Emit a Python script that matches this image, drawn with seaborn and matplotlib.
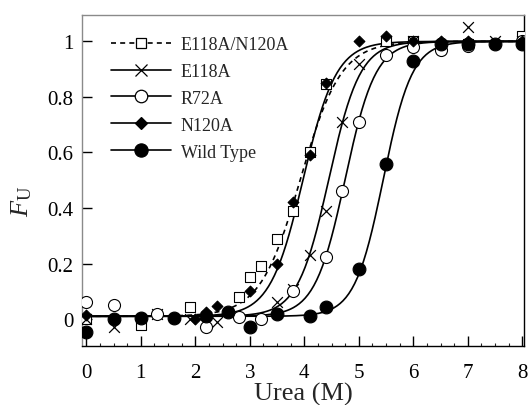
import numpy as np
import pandas as pd
import matplotlib
matplotlib.use('Agg')
import matplotlib.pyplot as plt
import seaborn as sns
from matplotlib.lines import Line2D
from matplotlib.ticker import MultipleLocator

dbl_x = [0, 1, 1.9, 2.8, 3.0, 3.2, 3.5, 3.8, 4.1, 4.4, 5.5, 6.0, 7.0, 8.0]
dbl_y = [0.0, -0.02, 0.045, 0.08, 0.15, 0.19, 0.29, 0.39, 0.60, 0.845, 1.0, 1.0, 0.99, 1.02]

e118_x = [0, 0.5, 1.3, 1.9, 2.4, 3.5, 3.8, 4.1, 4.4, 4.7, 5.0, 6.0, 7.0, 7.5, 8.0]
e118_y = [0.0, -0.03, 0.02, 0.0, -0.01, 0.06, 0.11, 0.23, 0.39, 0.71, 0.92, 1.0, 1.05, 1.0, 1.0]

r72_x = [0, 0.5, 1.3, 2.2, 2.8, 3.2, 3.8, 4.4, 4.7, 5.0, 5.5, 6.0, 6.5, 7.0, 8.0]
r72_y = [0.063, 0.05, 0.02, -0.03, 0.008, 0.0, 0.10, 0.225, 0.46, 0.71, 0.95, 0.98, 0.97, 0.985, 1.0]

n120_x = [0, 0.5, 1.6, 2.0, 2.2, 2.4, 3.0, 3.5, 3.8, 4.1, 4.4, 5.0, 5.5, 6.0, 6.5, 7.0, 8.0]
n120_y = [0.016, 0.0, 0.005, 0.0, 0.027, 0.048, 0.10, 0.20, 0.42, 0.59, 0.85, 1.0, 1.02, 1.0, 1.0, 1.0, 1.0]

wt_x = [0, 0.5, 1.0, 1.6, 2.2, 2.6, 3.0, 3.5, 4.1, 4.4, 5.0, 5.5, 6.0, 6.5, 7.0, 7.5, 8.0]
wt_y = [-0.045, 0.0, 0.005, 0.005, 0.01, 0.026, -0.027, 0.02, 0.01, 0.045, 0.18, 0.56, 0.93, 0.99, 0.99, 0.99, 0.99]

# two-state fit parameters (midpoint, steepness) estimated from the curves
names = ['E118A/N120A', 'E118A', 'R72A', 'N120A', 'Wild Type']
fit_mid = [3.93, 4.45, 4.75, 3.98, 5.45]
fit_k = [2.7, 3.5, 3.6, 3.3, 3.8]
base_lo = 0.01

sns.set_style('ticks')
plt.rcParams['font.family'] = ['Liberation Serif', 'DejaVu Serif']
plt.rcParams['mathtext.fontset'] = 'custom'
plt.rcParams['mathtext.rm'] = 'Liberation Serif'
plt.rcParams['mathtext.it'] = 'Liberation Serif:italic'

fig = plt.figure(figsize=(5.29, 4.06), dpi=100)
ax = fig.add_axes([0.155, 0.1453, 0.8355, 0.8153])

series = [(dbl_x, dbl_y), (e118_x, e118_y), (r72_x, r72_y), (n120_x, n120_y), (wt_x, wt_y)]
markers = ['s', 'x', 'o', 'D', 'o']
msizes = [48, 60, 75, 30, 85]
facecol = ['white', 'black', 'white', 'black', 'black']
dash_pat = (3, 2.5)

xx = np.linspace(0, 8, 300)
for i, (xs, ys) in enumerate(series):
    yfit = base_lo + (1 - base_lo) / (1 + np.exp(-fit_k[i] * (xx - fit_mid[i])))
    fdf = pd.DataFrame({'urea': xx, 'fu': yfit})
    sns.lineplot(data=fdf, x='urea', y='fu', ax=ax, color='black', lw=1.2, zorder=2)
    if i == 0:
        ax.lines[-1].set_dashes(dash_pat)

for i, (xs, ys) in enumerate(series):
    df = pd.DataFrame({'urea': xs, 'fu': ys})
    if markers[i] == 'x':
        sns.scatterplot(data=df, x='urea', y='fu', ax=ax, marker='x', s=msizes[i],
                        color='black', linewidth=0.9, zorder=3)
    else:
        sns.scatterplot(data=df, x='urea', y='fu', ax=ax, marker=markers[i], s=msizes[i],
                        facecolor=facecol[i], edgecolor='black', linewidth=0.8, zorder=3)

ax.set_xlim(-0.08, 8.03)
ax.set_ylim(-0.097, 1.095)
ax.xaxis.set_major_locator(MultipleLocator(1))
ax.xaxis.set_minor_locator(MultipleLocator(0.25))
ax.yaxis.set_major_locator(MultipleLocator(0.2))
ax.yaxis.set_major_formatter(plt.FuncFormatter(lambda v, p: f'{v:g}' if abs(v) > 1e-9 else '0'))
ax.tick_params(axis='both', which='major', direction='in', length=7, width=1,
               labelsize=15, top=False, right=False, colors='black')
ax.tick_params(axis='x', which='major', pad=12)
ax.tick_params(axis='y', which='major', pad=6)
ax.tick_params(axis='x', which='minor', direction='in', length=2.5, width=0.8)
for s in ['left', 'top']:
    ax.spines[s].set_color('#8a8a8a')
for s in ['bottom', 'right']:
    ax.spines[s].set_color('black')
for s in ax.spines.values():
    s.set_linewidth(1.0)

ax.set_xlabel('Urea (M)', fontsize=19, labelpad=0)
ax.set_ylabel(r'$F_{\rm U}$', fontsize=19)
ax.yaxis.set_label_coords(-0.108, 0.44)

handles = []
for i in range(5):
    h = Line2D([0], [0], color='black', lw=1.2,
               marker=markers[i], markersize=[7, 8.5, 9, 6, 9.5][i],
               markerfacecolor=facecol[i], markeredgecolor='black', markeredgewidth=0.9)
    if i == 0:
        h.set_dashes(dash_pat)
    handles.append(h)
ax.legend(handles, names, loc='upper left', bbox_to_anchor=(0.037, 0.975), frameon=False,
          fontsize=13, handlelength=3.3, handletextpad=0.55, labelspacing=0.55,
          borderpad=0.2)

fig.savefig('out.png', dpi=100)
